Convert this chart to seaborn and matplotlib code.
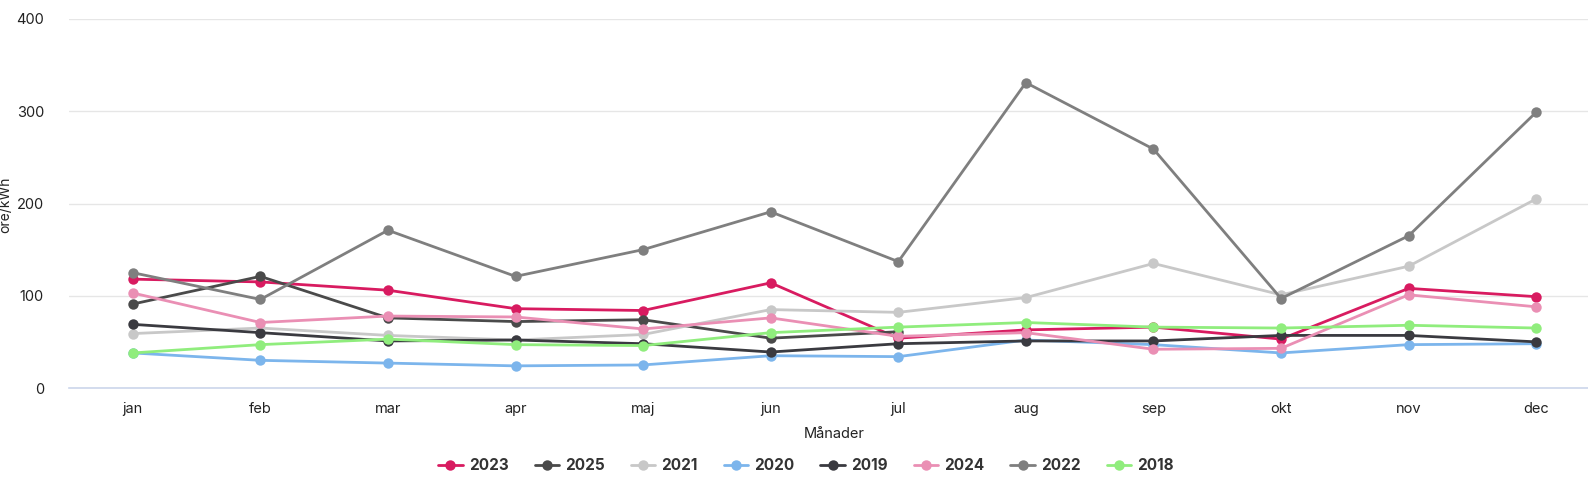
import numpy as np
import pandas as pd
import seaborn as sb
from matplotlib import pyplot as plt
from matplotlib.lines import Line2D

months = ["jan", "feb", "mar", "apr", "maj", "jun", "jul", "aug", "sep", "okt", "nov", "dec"]
years = ["2023", "2025", "2021", "2020", "2019", "2024", "2022", "2018"]

y2023 = [118, 115, 106, 86, 84, 114, 54, 63, 66, 53, 108, 99]
y2025 = [91, 121, 76, 72, 74, 54, 61, np.nan, np.nan, np.nan, np.nan, np.nan]
y2021 = [59, 65, 57, 52, 58, 85, 82, 98, 135, 101, 132, 205]
y2020 = [38, 30, 27, 24, 25, 35, 34, 52, 47, 38, 47, 48]
y2019 = [69, 60, 51, 52, 48, 39, 48, 51, 51, 57, 57, 50]
y2024 = [103, 71, 78, 77, 64, 76, 56, 60, 42, 43, 101, 88]
y2022 = [125, 96, 171, 121, 150, 191, 137, 331, 259, 97, 165, 299]
y2018 = [38, 47, 53, 47, 46, 60, 66, 71, 66, 65, 68, 65]

colors = ["#d81b60", "#4a4a4a", "#c8c8c8", "#7cb5ec", "#3a3a40", "#ea8fb4", "#7f7f7f", "#90ed7d"]

series = [y2023, y2025, y2021, y2020, y2019, y2024, y2022, y2018]
rows = []
for yr, vals in zip(years, series):
	for m, v in zip(months, vals):
		rows.append([yr, m, v])
df = pd.DataFrame(rows, columns=["year", "month", "value"])

sb.set_style("white")
plt.rcParams["font.family"] = ["Inter", "DejaVu Sans"]

fig = plt.figure(figsize=(15.88, 4.93), dpi=100)
ax = fig.add_axes([69 / 1588, 1 - 388 / 493, 1531 / 1588, 369 / 493])

sb.lineplot(data=df, x="month", y="value", hue="year", hue_order=years,
	palette=dict(zip(years, colors)), marker="o", markersize=7.5, markeredgewidth=0,
	linewidth=2, sort=False, legend=False, ax=ax)

ax.set_xlim(-0.5, 11.5)
ax.set_ylim(0, 400)
ax.set_yticks([0, 100, 200, 300, 400])
ax.yaxis.grid(True, color="#e6e6e6", linewidth=1)
ax.set_axisbelow(True)
for s in ["top", "right", "left"]:
	ax.spines[s].set_visible(False)
ax.spines["bottom"].set_color("#ccd6eb")
ax.spines["bottom"].set_linewidth(1.2)

ax.set_xticks(np.arange(12))
ax.set_xticklabels(months)
ax.set_xticks(np.arange(-0.5, 12, 1), minor=True)
ax.tick_params(axis="x", which="major", length=0, pad=10, labelsize=10.5, labelcolor="#222222")
ax.tick_params(axis="x", which="minor", length=10, color="#ccd6eb", width=1.2)
ax.tick_params(axis="y", length=0, pad=18, labelsize=10.5, labelcolor="#222222")

ax.set_xlabel("Månader", fontsize=10.5, labelpad=8, color="#222222")
ax.set_ylabel("öre/kWh", fontsize=10, color="#222222")
ax.yaxis.set_label_coords(-57 / 1531, 0.496)

handles = [Line2D([0], [0], color=c, marker="o", markersize=7.5, markeredgewidth=0, linewidth=2)
	for c in colors]
leg = fig.legend(handles, years, loc="center", bbox_to_anchor=(806 / 1588, 1 - 466 / 493),
	ncol=8, frameon=False, handlelength=1.6, handletextpad=0.4, columnspacing=1.7,
	prop={"weight": "bold", "size": 11})
for t in leg.get_texts():
	t.set_color("#333333")

fig.savefig("out.png", dpi=100)
